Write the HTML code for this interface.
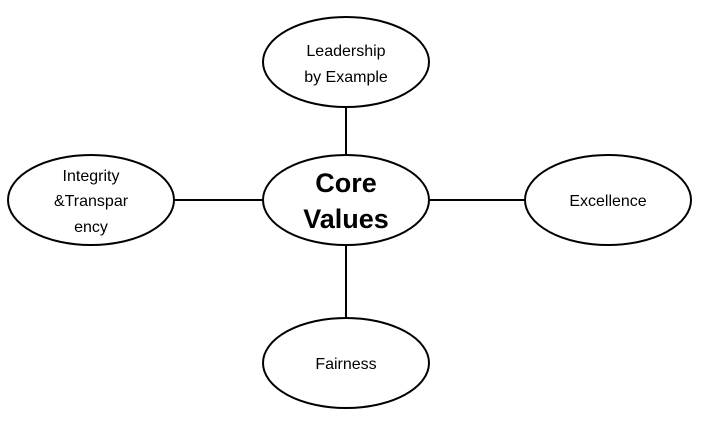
<!DOCTYPE html>
<html><head><style>
html,body{margin:0;padding:0;background:#fff;}
svg{display:block;}
text{font-family:"Liberation Sans",sans-serif;fill:#000;}
</style></head><body>
<svg width="705" height="422" viewBox="0 0 705 422" xmlns="http://www.w3.org/2000/svg">
<g stroke="#000" stroke-width="2" fill="none">
<line x1="346" y1="107" x2="346" y2="155"/>
<line x1="346" y1="245" x2="346" y2="318"/>
<line x1="174" y1="200" x2="263" y2="200"/>
<line x1="429" y1="200" x2="525" y2="200"/>
</g>
<g stroke="#000" stroke-width="2" fill="#fff">
<ellipse cx="346" cy="62" rx="83" ry="45"/>
<ellipse cx="346" cy="200" rx="83" ry="45"/>
<ellipse cx="91" cy="200" rx="83" ry="45"/>
<ellipse cx="608" cy="200" rx="83" ry="45"/>
<ellipse cx="346" cy="363" rx="83" ry="45"/>
</g>
<g font-size="16" text-anchor="middle">
<text x="346" y="56">Leadership</text>
<text x="346" y="82">by Example</text>
<text x="91" y="181">Integrity</text>
<text x="91" y="206">&amp;Transpar</text>
<text x="91" y="232">ency</text>
<text x="608" y="206">Excellence</text>
<text x="346" y="369">Fairness</text>
</g>
<g font-size="27" font-weight="bold" text-anchor="middle">
<text x="346" y="192">Core</text>
<text x="346" y="228">Values</text>
</g>
</svg>
</body></html>
